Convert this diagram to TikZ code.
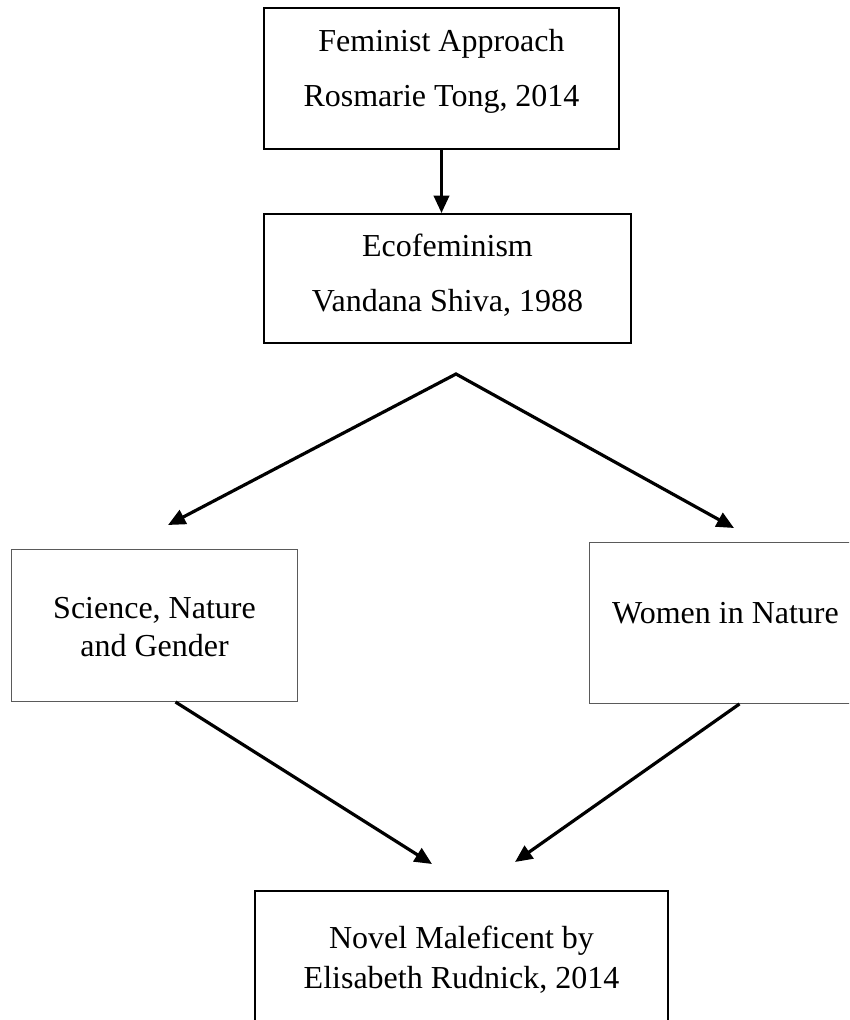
\documentclass[tikz,border=0pt]{standalone}
\usepackage{fontspec}
\setmainfont{Liberation Serif}
\usetikzlibrary{arrows.meta}

\begin{document}
\begin{tikzpicture}[x=0.75pt,y=0.75pt,yscale=-1,xscale=1,
        box/.style={draw, line width=1.5pt, inner sep=0pt, align=center, anchor=north west, font=\fontsize{24}{41.25}\selectfont},
        thinbox/.style={box, draw={rgb, 255:red, 90; green, 90; blue, 90 }, line width=0.75pt, font=\fontsize{24}{28.5}\selectfont},
        arr/.style={line width=2pt, -{Triangle[length=13pt,width=11.5pt]}},
        forkarr/.style={line width=2.4pt, {Triangle[length=13pt,width=11.5pt]}-{Triangle[length=13pt,width=11.5pt]}}]
        \clip (0,0) rectangle (849,1020);
        \node [box, minimum width=266.25pt, text height=73.9pt, text depth=31.9pt] (approach) at (263,7) {Feminist Approach\\Rosmarie Tong, 2014};
        \node [box, minimum width=275.25pt, text height=73.1pt, text depth=23.6pt] (eco) at (263,213) {Ecofeminism\\Vandana Shiva, 1988};
        \node [thinbox, minimum width=214.5pt, text height=79.9pt, text depth=34.1pt] (science) at (11,549) {Science, Nature\\and Gender};
        \node [thinbox, minimum width=204pt, text height=61.1pt, text depth=59.6pt] (women) at (589,542) {Women in Nature};
        \node [box, font=\fontsize{24}{30}\selectfont, minimum width=309.75pt, text height=73.1pt, text depth=27.4pt] (novel) at (254,890) {Novel Maleficent by\\Elisabeth Rudnick, 2014};
        \coordinate (fork) at (456,374);
        \coordinate (forkL) at (168,525);
        \coordinate (forkR) at (734,528);
        \coordinate (joinL) at (432,864);
        \coordinate (joinR) at (515,862);
        \draw [arr] (approach.south) -- (approach.south |- eco.north);
        \draw [forkarr] (forkL) -- (fork) -- (forkR);
        \draw [arr, line width=2.4pt] ([xshift=15.75pt]science.south) -- (joinL);
        \draw [arr, line width=2.4pt] ([xshift=10.5pt]women.south) -- (joinR);
\end{tikzpicture}
\end{document}
